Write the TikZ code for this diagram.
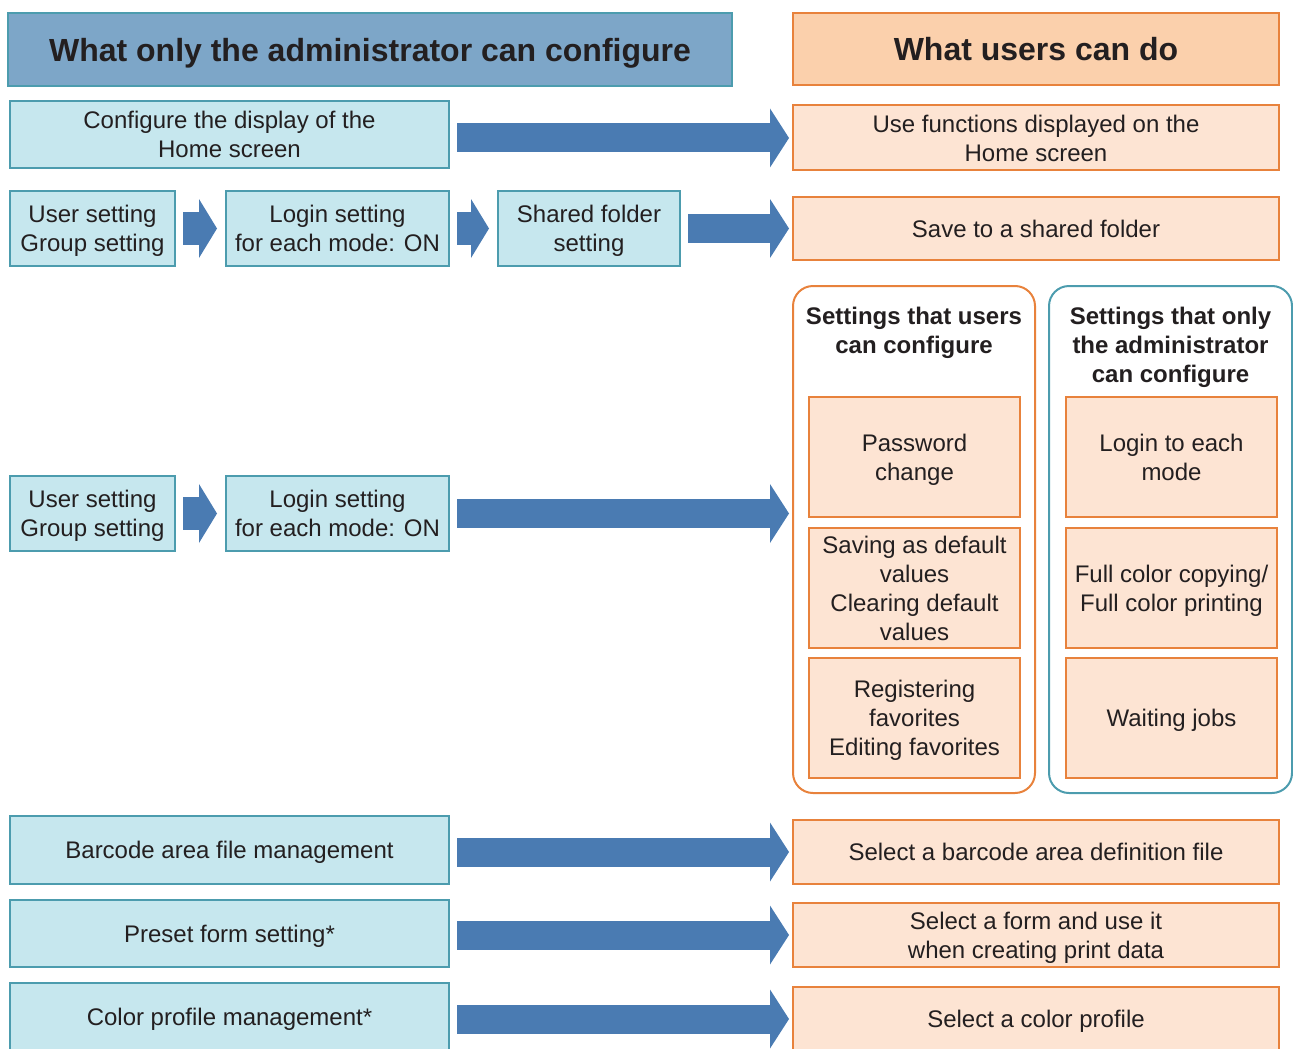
\documentclass[tikz,border=0pt]{standalone}
\usepackage{fontspec}
\setmainfont{Liberation Sans}
\usepackage{xcolor}
\usetikzlibrary{arrows.meta,positioning,calc}

\definecolor{ink}{RGB}{35,31,32}
\definecolor{admfill}{RGB}{198,231,238}
\definecolor{admline}{RGB}{76,156,174}
\definecolor{admhead}{RGB}{125,166,200}
\definecolor{usrfill}{RGB}{253,228,211}
\definecolor{usrline}{RGB}{232,130,60}
\definecolor{usrhead}{RGB}{251,208,172}
\definecolor{arrblue}{RGB}{74,123,178}

\begin{document}
\begin{tikzpicture}[
    x=1pt, y=-1pt,
    txt/.style={align=center, inner sep=1pt, text depth=0pt, text=ink, font=\fontsize{12}{14.5}\selectfont},
    adm/.style={txt, draw=admline, fill=admfill, line width=1pt},
    usr/.style={txt, draw=usrline, fill=usrfill, line width=1pt},
    head/.style={txt, line width=1pt, font=\fontsize{16}{19}\selectfont\bfseries},
    group/.style={draw=#1, line width=1pt, rounded corners=10pt, minimum width=121pt, minimum height=253.5pt},
    gtitle/.style={txt, anchor=north, font=\fontsize{12}{14.5}\selectfont\bfseries},
    inbox/.style={usr, minimum width=105.5pt, minimum height=60pt},
    blk/.style={line width=14.5pt, draw=arrblue, -{Triangle[length=9.5pt, width=29.5pt, line width=0pt]}, shorten <=3.5pt, shorten >=1.5pt},
    sblk/.style={line width=16.5pt, draw=arrblue, -{Triangle[length=9pt, width=29.5pt, line width=0pt]}, shorten <=3.5pt, shorten >=4pt}
  ]
    \useasboundingbox (0,0) rectangle (646.5,524);
    \clip (0,0) rectangle (646.5,524);

    % headers
    \node[head, draw=admline, fill=admhead, minimum width=362pt, minimum height=36.5pt] (hadm) at (185,24.75) {What only the administrator can configure};
    \node[head, draw=usrline, fill=usrhead, minimum width=243pt, minimum height=36pt] (husr) at (518,24.5) {What users can do};

    % row 1
    \node[adm, minimum width=219.5pt, minimum height=33.5pt] (home) at (114.75,67.25) {Configure the display of the\\Home screen};
    \node[usr, minimum width=243pt, minimum height=32.5pt] (usehome) at (518,69) {Use functions displayed on the\\Home screen};

    % row 2
    \node[adm, minimum width=82.5pt, minimum height=37.5pt] (user1) at (46.25,114.25) {User setting\\Group setting};
    \node[adm, minimum width=111.5pt, minimum height=37.5pt] (login1) at (168.75,114.25) {Login setting\\for each mode: ON};
    \node[adm, minimum width=91pt, minimum height=37.5pt] (shared) at (294.5,114.25) {Shared folder\\setting};
    \node[usr, minimum width=243pt, minimum height=31.5pt] (saveshared) at (518,114.25) {Save to a shared folder};

    % row 3
    \node[adm, minimum width=82.5pt, minimum height=37.5pt] (user2) at (46.25,256.75) {User setting\\Group setting};
    \node[adm, minimum width=111.5pt, minimum height=37.5pt] (login2) at (168.75,256.75) {Login setting\\for each mode: ON};

    \node[group=usrline] (gusr) at (457,269.75) {};
    \node[group=admline, minimum width=121.5pt] (gadm) at (585.25,269.75) {};
    \node[gtitle] (tusr) at ([yshift=-10pt]gusr.north) {Settings that users\\can configure};
    \node[gtitle] (tadm) at ([yshift=-10pt]gadm.north) {Settings that only\\the administrator\\can configure};

    \node[inbox] (pwd) at (457.25,228.5) {Password\\change};
    \node[inbox] (dflt) at (457.25,294) {Saving as default\\values\\Clearing default\\values};
    \node[inbox] (fav) at (457.25,359) {Registering\\favorites\\Editing favorites};
    \node[inbox] (lgmode) at (585.75,228.5) {Login to each\\mode};
    \node[inbox] (fcolor) at (585.75,294) {Full color copying/\\Full color printing};
    \node[inbox] (wait) at (585.75,359) {Waiting jobs};

    % rows 4-6
    \node[adm, minimum width=219.5pt, minimum height=34pt] (barcode) at (114.75,425) {Barcode area file management};
    \node[usr, minimum width=243pt, minimum height=32pt] (selbar) at (518,426) {Select a barcode area definition file};
    \node[adm, minimum width=219.5pt, minimum height=33.5pt] (preset) at (114.75,466.75) {Preset form setting*};
    \node[usr, minimum width=243pt, minimum height=32pt] (selform) at (518,467.5) {Select a form and use it\\when creating print data};
    \node[adm, minimum width=219.5pt, minimum height=34pt] (profile) at (114.75,508.5) {Color profile management*};
    \node[usr, minimum width=243pt, minimum height=32pt] (selprof) at (518,509.5) {Select a color profile};

    % block arrows
    \draw[blk] (home.east |- usehome.west) -- (usehome.west);
    \draw[sblk] (user1) -- (login1);
    \draw[sblk] (login1) -- (shared);
    \draw[blk] (shared.east |- saveshared.west) -- (saveshared.west);
    \draw[sblk] (user2) -- (login2);
    \draw[blk] (login2.east) -- (login2.east -| gusr.west);
    \draw[blk] (barcode.east |- selbar.west) -- (selbar.west);
    \draw[blk] (preset.east |- selform.west) -- (selform.west);
    \draw[blk] (profile.east |- selprof.west) -- (selprof.west);
\end{tikzpicture}
\end{document}
